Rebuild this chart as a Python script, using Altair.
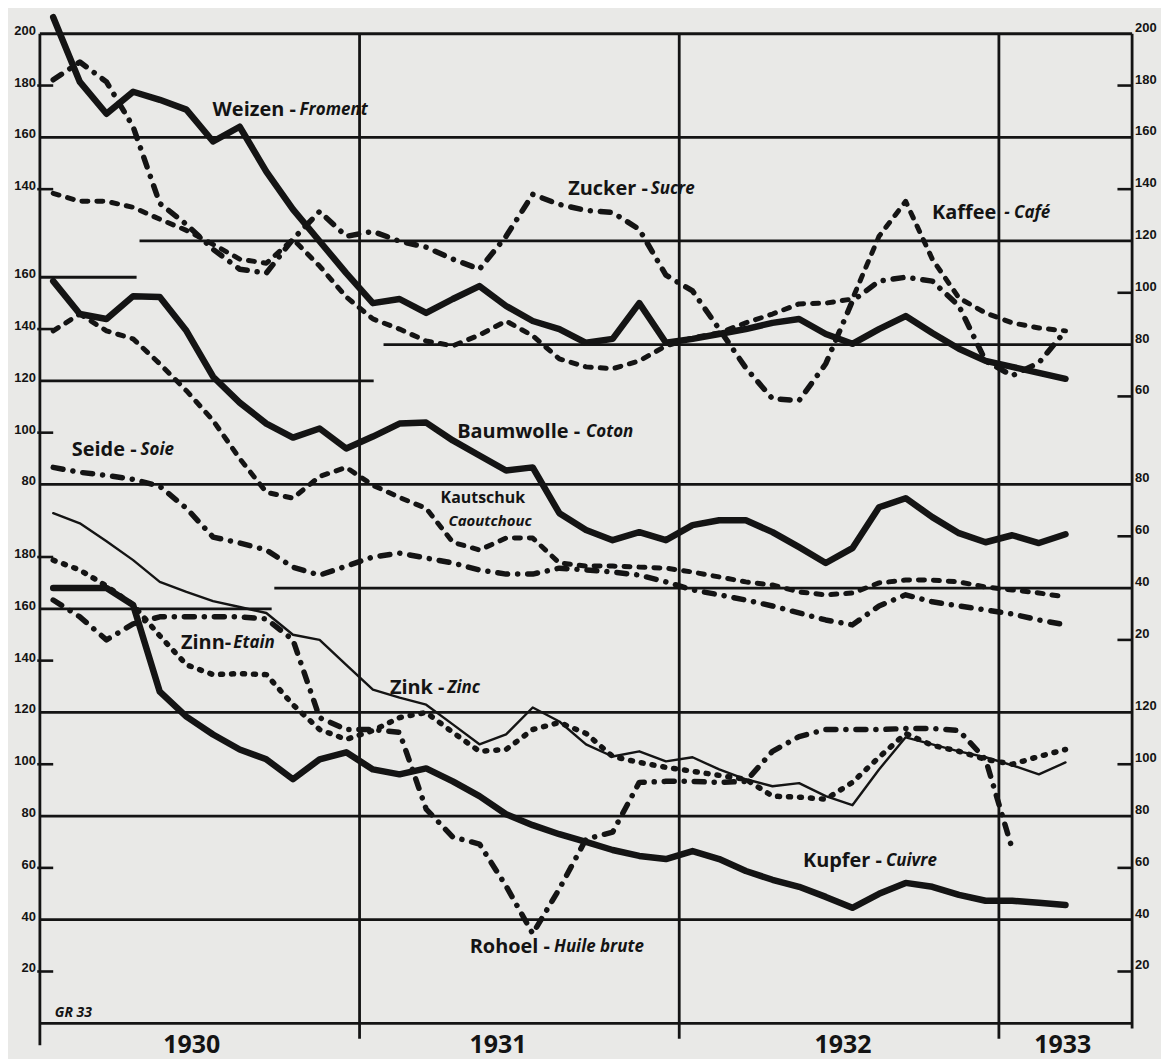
import altair as alt
import pandas as pd

INK = "#141414"
PAPER = "#e9e9e7"

# ---- monthly index numbers, month 0 = Jan 1930 ... month 38 = Mar 1933 ----
# upper group (left scale 140-200, right scale 60-200)
weizen = [206.4, 181.4, 169.1, 177.6, 174.5, 170.7, 158.4, 164.1, 146.8, 132.2, 119.9, 107.6, 96.0,
          97.6, 92.2, 97.6, 102.6, 94.9, 89.1, 86.0, 80.7, 82.2, 96.0, 80.7, 82.2, 84.1, 86.0,
          88.4, 89.9, 84.1, 80.3, 86.0, 91.0, 84.5, 78.4, 73.7, 71.4, 69.1, 66.8]
zucker = [182.2, 189.1, 181.4, 164.1, 134.5, 126.4, 116.8, 109.1, 107.6, 120.7, 131.4, 121.8, 123.7,
          119.9, 117.6, 113.0, 109.1, 121.8, 138.0, 134.1, 131.8, 131.0, 124.5, 106.8, 100.7, 86.0,
          71.0, 59.1, 58.4, 72.6, 96.8, 104.5, 106.0, 104.5, 94.9, 73.7, 68.0, 73.0, 85.3]
kaffee = [138.4, 135.3, 135.3, 133.0, 128.4, 124.1, 118.7, 113.0, 111.4, 120.7, 110.3, 98.4, 89.9,
          86.0, 81.4, 79.5, 83.7, 89.1, 83.4, 74.5, 71.4, 70.7, 73.7, 79.5, 82.6, 84.5, 88.4,
          91.8, 95.7, 96.0, 97.6, 121.8, 135.3, 113.0, 98.0, 92.2, 88.4, 86.4, 85.3]
# middle group (left scale 80-160, right scale 20-80)
baumwolle = [158.5, 145.8, 143.9, 152.7, 152.4, 139.3, 121.6, 111.6, 103.5, 98.1, 101.6, 93.9, 98.5,
             103.5, 103.9, 97.0, 91.2, 85.4, 86.6, 68.9, 62.4, 58.5, 61.6, 58.5, 64.3, 66.2, 66.2,
             61.6, 55.8, 49.7, 55.4, 71.2, 74.7, 67.4, 61.2, 57.7, 60.4, 57.4, 60.8]
seide = [86.6, 84.7, 83.5, 82.0, 79.3, 70.8, 59.7, 57.4, 54.7, 48.1, 45.0, 48.5, 52.0, 53.5, 51.6,
         49.7, 47.0, 45.4, 45.4, 47.7, 47.0, 46.2, 45.0, 42.4, 39.3, 37.4, 35.4, 33.1, 30.4, 27.7,
         25.8, 33.1, 37.4, 34.7, 33.1, 31.6, 30.0, 27.7, 25.8]
kautschuk = [139.3, 145.8, 139.3, 136.2, 126.6, 116.2, 104.7, 90.0, 77.0, 74.7, 83.1, 86.6, 79.7,
             75.0, 70.8, 57.7, 54.7, 59.3, 59.3, 49.7, 48.5, 48.5, 48.1, 47.7, 46.2, 44.3, 42.4,
             41.2, 38.5, 37.4, 38.1, 42.0, 43.1, 43.1, 42.4, 40.4, 39.3, 38.1, 36.6]
# lower group (scale 20-180)
kupfer = [168.0, 168.0, 168.0, 161.5, 128.0, 118.4, 111.5, 105.7, 101.9, 94.2, 101.9, 104.6, 98.0,
          96.1, 98.4, 93.4, 87.7, 80.7, 76.5, 73.0, 70.0, 66.9, 64.6, 63.4, 66.5, 63.4, 58.8, 55.4,
          52.7, 48.8, 44.6, 50.0, 54.2, 52.7, 49.6, 47.3, 47.3, 46.5, 45.7]
zink = [196.9, 193.0, 186.1, 178.8, 170.4, 166.5, 163.0, 160.7, 158.4, 150.0, 148.0, 138.4, 128.8,
        125.7, 123.0, 115.4, 107.7, 111.5, 121.9, 116.5, 107.7, 103.0, 105.0, 101.1, 102.7, 98.0,
        94.2, 91.5, 92.7, 87.7, 84.2, 98.0, 110.4, 107.7, 105.0, 102.7, 99.6, 96.1, 100.7]
zinn = [178.8, 175.0, 168.8, 161.5, 149.6, 138.4, 134.6, 135.0, 134.6, 123.0, 113.4, 109.6, 113.0,
        118.0, 120.0, 112.3, 105.0, 105.7, 113.4, 116.1, 111.9, 103.0, 100.7, 98.8, 97.3, 95.7,
        94.2, 87.7, 87.3, 86.5, 93.0, 102.7, 111.9, 107.3, 105.0, 101.9, 100.0, 103.0, 105.7]
rohoel = [163.4, 156.9, 148.0, 154.2, 156.9, 156.9, 156.9, 156.9, 156.1, 148.0, 118.0, 113.4, 113.4,
          112.3, 82.7, 71.9, 69.2, 53.0, 34.6, 51.9, 71.1, 73.8, 93.0, 93.4, 93.4, 93.0, 93.4, 105.0,
          110.7, 113.4, 113.4, 113.4, 113.8, 113.8, 113.0, 101.9, 67.3]

# vertical offset of each group on the common drawing scale
OFFSET = {"top": 182, "mid": 128, "bot": 0}

SOLID_THICK = dict(strokeWidth=6.5)
SOLID_THIN = dict(strokeWidth=2.4)
DASHDOT = dict(strokeWidth=5.5, strokeDash=[10, 10, 0.1, 10])
DASHED = dict(strokeWidth=5, strokeDash=[6, 9])
DOTTED = dict(strokeWidth=5.5, strokeDash=[2, 9])

series = [
    ("Weizen", weizen, "top", SOLID_THICK),
    ("Zucker", zucker, "top", DASHDOT),
    ("Kaffee", kaffee, "top", DASHED),
    ("Baumwolle", baumwolle, "mid", SOLID_THICK),
    ("Seide", seide, "mid", DASHDOT),
    ("Kautschuk", kautschuk, "mid", DASHED),
    ("Kupfer", kupfer, "bot", SOLID_THICK),
    ("Zink", zink, "bot", SOLID_THIN),
    ("Zinn", zinn, "bot", DOTTED),
    ("Rohoel", rohoel, "bot", DASHDOT),
]

rows = []
for name, vals, sec, _ in series:
    for i, v in enumerate(vals):
        rows.append({"series": name, "i": i, "value": v, "off": OFFSET[sec]})
df = pd.DataFrame(rows)

# horizontal rulings: group, value, from month, to month
gridlines = [
    ("top", 200, 0, 41), ("top", 160, 0, 41), ("top", 120, 3.74, 41), ("top", 80, 12.9, 41),
    ("mid", 160, 0, 3.63), ("mid", 120, 0, 12.53), ("mid", 80, 0, 41), ("mid", 40, 8.8, 41),
    ("bot", 160, 0, 8.7), ("bot", 120, 0, 41), ("bot", 80, 0, 41), ("bot", 40, 0, 41), ("bot", 0, 0, 41),
]
grid_df = pd.DataFrame([{"off": OFFSET[s], "value": v, "m0": a, "m1": b} for s, v, a, b in gridlines])

# vertical rulings (year boundaries and frame): month, lower end
vlines = [(0, -8.5), (12, -6), (24, -6), (36, -6), (41, -2)]
v_df = pd.DataFrame([{"m": m, "u0": lo, "u1": 382} for m, lo in vlines])

# tick marks without a ruling
left_ticks = [("top", 180), ("top", 140), ("mid", 140), ("mid", 100),
              ("bot", 180), ("bot", 140), ("bot", 100), ("bot", 60), ("bot", 20)]
right_ticks = [("top", 180), ("top", 140), ("top", 100), ("top", 60),
               ("mid", 60), ("mid", 20), ("bot", 100), ("bot", 60), ("bot", 20)]
ticks_df = pd.DataFrame(
    [{"off": OFFSET[s], "value": v, "m0": -0.1, "m1": 0.5} for s, v in left_ticks]
    + [{"off": OFFSET[s], "value": v, "m0": 40.45, "m1": 41} for s, v in right_ticks]
)

left_labels = [("top", v) for v in (200, 180, 160, 140)] + \
              [("mid", v) for v in (160, 140, 120, 100, 80)] + \
              [("bot", v) for v in (180, 160, 140, 120, 100, 80, 60, 40, 20)]
right_labels = [("top", v) for v in (200, 180, 160, 140, 120, 100, 80, 60)] + \
               [("mid", v) for v in (80, 60, 40, 20)] + \
               [("bot", v) for v in (120, 100, 80, 60, 40, 20)]
ll_df = pd.DataFrame([{"off": OFFSET[s], "value": v, "label": str(v), "m": 0} for s, v in left_labels])
rl_df = pd.DataFrame([{"off": OFFSET[s], "value": v, "label": str(v), "m": 41} for s, v in right_labels])

years = ["1930", "1931", "1932", "1933"]
year_pos = [5.7, 17.2, 30.15, 38.4]
yr_df = pd.DataFrame({"label": years, "m": year_pos, "u": [-8.5] * 4})

# curve names: (text, month, drawing level)
names_upright_r = [("Weizen -", 9.61, 352.7), ("Zucker -", 22.82, 321.9), ("Kaffee", 35.9, 312.7),
                   ("Baumwolle -", 20.28, 228.1), ("Seide -", 3.63, 221.2), ("Zinn-", 7.18, 146.9),
                   ("Zink -", 15.19, 129.6), ("Kupfer -", 31.61, 62.7), ("Rohoel -", 19.15, 29.6)]
names_italic_l = [("Froment", 9.75, 352.7), ("Sucre", 22.93, 321.9), ("- Café", 36.2, 312.7),
                  ("Coton", 20.5, 228.1), ("Soie", 3.78, 221.2),
                  ("Etain", 7.26, 146.9), ("Zinc", 15.3, 129.6), ("Cuivre", 31.76, 62.7),
                  ("Huile brute", 19.3, 29.6)]
nur = pd.DataFrame(names_upright_r, columns=["label", "m", "u"])
nil = pd.DataFrame(names_italic_l, columns=["label", "m", "u"])
kaut = pd.DataFrame([("Kautschuk", 15.04, 202.6)], columns=["label", "m", "u"])
caou = pd.DataFrame([("Caoutchouc", 15.34, 194.0)], columns=["label", "m", "u"])
sig = pd.DataFrame({"label": ["GR 33"], "m": [0.56], "u": [3.8]})

X = alt.Scale(domain=[0, 41], nice=False, zero=False)
Y = alt.Scale(domain=[0, 382], nice=False, zero=False)


def xy(xfield="m:Q", yfield="u:Q"):
    return dict(x=alt.X(xfield, scale=X, axis=None), y=alt.Y(yfield, scale=Y, axis=None))


layers = []

# rulings
layers.append(
    alt.Chart(grid_df).transform_calculate(u="datum.value + datum.off")
    .mark_rule(color=INK, strokeWidth=2.8)
    .encode(x2="m1:Q", **xy("m0:Q"))
)
layers.append(
    alt.Chart(v_df).mark_rule(color=INK, strokeWidth=2.8)
    .encode(y2="u1:Q", **xy("m:Q", "u0:Q"))
)
layers.append(
    alt.Chart(ticks_df).transform_calculate(u="datum.value + datum.off")
    .mark_rule(color=INK, strokeWidth=2.6)
    .encode(x2="m1:Q", **xy("m0:Q"))
)

# price curves
for name, _, _, style in series:
    layers.append(
        alt.Chart(df).transform_filter(alt.datum.series == name)
        .transform_calculate(m="datum.i + 0.5", u="datum.value + datum.off")
        .mark_line(color=INK, strokeCap="round", strokeJoin="round", **style)
        .encode(order="i:Q", **xy())
    )

# scale figures
layers.append(
    alt.Chart(ll_df).transform_calculate(u="datum.value + datum.off")
    .mark_text(align="right", baseline="middle", dx=-4, dy=-3, font="Liberation Sans",
               fontSize=13, fontWeight="bold", color=INK)
    .encode(text="label:N", **xy())
)
layers.append(
    alt.Chart(rl_df).transform_calculate(u="datum.value + datum.off")
    .mark_text(align="left", baseline="middle", dx=3, dy=-6, font="Liberation Sans",
               fontSize=13, fontWeight="bold", color=INK)
    .encode(text="label:N", **xy())
)
layers.append(
    alt.Chart(yr_df).mark_text(align="center", baseline="middle", font="Open Sans",
                               fontSize=25, fontWeight="bold", color=INK)
    .encode(text="label:N", **xy())
)

# curve names
layers.append(
    alt.Chart(nur).mark_text(align="right", baseline="middle", font="Open Sans", fontSize=20,
                             fontWeight="bold", color=INK)
    .encode(text="label:N", **xy())
)
layers.append(
    alt.Chart(nil).mark_text(align="left", baseline="middle", font="Open Sans", fontSize=17,
                             fontWeight="bold", fontStyle="italic", color=INK)
    .encode(text="label:N", **xy())
)
layers.append(
    alt.Chart(kaut).mark_text(align="left", baseline="middle", font="Open Sans", fontSize=16,
                              fontWeight="bold", color=INK)
    .encode(text="label:N", **xy())
)
layers.append(
    alt.Chart(caou).mark_text(align="left", baseline="middle", font="Open Sans", fontSize=15,
                              fontWeight="bold", fontStyle="italic", color=INK)
    .encode(text="label:N", **xy())
)
layers.append(
    alt.Chart(sig).mark_text(align="left", baseline="middle", font="Open Sans", fontSize=14,
                             fontWeight="bold", fontStyle="italic", color=INK)
    .encode(text="label:N", **xy())
)

chart = (
    alt.layer(*layers)
    .properties(width=1096, height=993, autosize=alt.AutoSizeParams(type="none"),
                padding={"left": 32, "top": 24, "right": 29, "bottom": 34},
                background=PAPER)
    .configure_view(strokeWidth=0)
)

chart.save("out.html", embed_options={"renderer": "svg", "actions": False})
